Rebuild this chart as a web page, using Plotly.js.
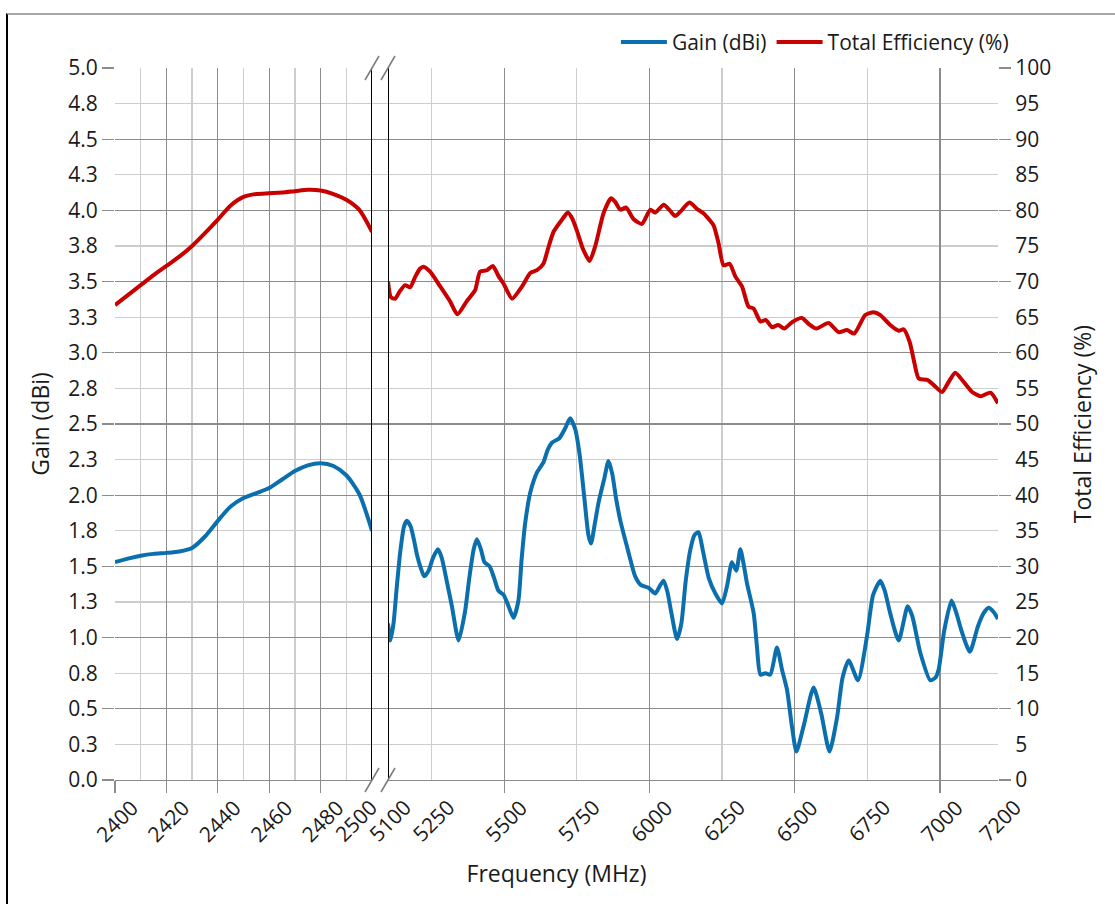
<!DOCTYPE html>
<html>
<head>
<meta charset="utf-8">
<script src="https://cdn.plot.ly/plotly-3.0.1.min.js"></script>
<style>
  html, body { margin:0; padding:0; background:#fff; }
  #wrap { position:relative; width:1115px; height:904px; overflow:hidden; }
  #chart { width:1115px; height:904px; }
  #frame { position:absolute; left:6px; top:13px; width:1200px; height:1000px;
           border-left:2px solid #000; border-top:2px solid #a6a6a6; pointer-events:none; }
</style>
</head>
<body>
<div id="wrap">
  <div id="chart"></div>
  <div id="frame"></div>
</div>
<script>
// ---------- data: 2.4 GHz band ----------
const freqLow = [2400,2405,2410,2415,2420,2425,2430,2435,2440,2445,2450,2455,2460,2465,2470,2475,2480,2485,2490,2495,2500];
const gainLow = [1.53,1.555,1.575,1.588,1.595,1.605,1.63,1.71,1.82,1.92,1.98,2.015,2.05,2.11,2.17,2.21,2.225,2.205,2.14,2.01,1.75];
const effLow  = [66.7,68.1,69.5,70.9,72.2,73.5,75.0,76.8,78.7,80.7,81.9,82.3,82.4,82.5,82.7,82.9,82.8,82.3,81.5,80.1,77.0];

// ---------- data: 5-7 GHz band, gain ----------
const freqHighGain = [5100,5108,5119,5130,5142,5155,5165,5178,5190,5200,5211,5225,5240,5255,5272,5285,5300,5320,5343,5365,
  5380,5395,5406,5420,5432,5450,5465,5480,5498,5515,5532,5549,5560,5572,5590,5613,5635,5650,5665,5690,
  5710,5727,5745,5760,5775,5790,5799,5812,5825,5845,5859,5872,5885,5900,5920,5934,5951,5970,5997,6020,
  6035,6049,6062,6075,6095,6110,6125,6141,6155,6169,6185,6204,6227,6250,6267,6284,6299,6313,6324,6336,
  6359,6370,6382,6399,6416,6439,6457,6474,6491,6506,6531,6565,6591,6620,6646,6665,6686,6718,6749,6770,
  6795,6810,6829,6858,6889,6905,6933,6967,6985,6996,7015,7040,7057,7074,7103,7131,7150,7168,7185,7200];
const gainHigh = [1.10,0.98,1.10,1.35,1.60,1.78,1.82,1.78,1.68,1.58,1.50,1.43,1.47,1.56,1.62,1.56,1.42,1.22,0.98,1.18,
  1.42,1.62,1.69,1.62,1.53,1.50,1.42,1.33,1.30,1.22,1.14,1.26,1.55,1.80,2.02,2.16,2.23,2.32,2.37,2.40,
  2.47,2.54,2.46,2.28,2.00,1.72,1.66,1.80,1.95,2.12,2.24,2.15,1.98,1.82,1.66,1.55,1.43,1.37,1.35,1.31,
  1.36,1.40,1.32,1.18,0.99,1.10,1.40,1.62,1.72,1.74,1.60,1.42,1.31,1.24,1.36,1.53,1.47,1.62,1.52,1.38,
  1.17,0.94,0.74,0.75,0.74,0.93,0.77,0.63,0.37,0.20,0.38,0.65,0.47,0.20,0.44,0.72,0.84,0.70,1.01,1.30,
  1.40,1.33,1.17,0.98,1.22,1.15,0.89,0.70,0.72,0.78,1.05,1.26,1.17,1.05,0.90,1.08,1.17,1.21,1.18,1.13];

// ---------- data: 5-7 GHz band, total efficiency ----------
const freqHighEff = [5100,5110,5125,5140,5159,5176,5194,5210,5222,5245,5280,5314,5339,5372,5400,5417,5441,5461,5480,5498,
  5527,5561,5590,5613,5635,5650,5670,5699,5719,5735,5750,5772,5794,5813,5842,5868,5882,5900,5920,5945,
  5974,6003,6020,6049,6070,6089,6106,6138,6164,6186,6210,6221,6238,6255,6276,6296,6319,6341,6359,6382,
  6401,6422,6443,6464,6491,6525,6550,6575,6617,6651,6680,6705,6743,6772,6795,6829,6858,6875,6896,6910,
  6927,6956,6978,7007,7030,7053,7082,7111,7140,7174,7200];
const effHigh = [70.0,67.8,67.6,68.6,69.5,69.2,70.7,71.8,72.1,71.4,69.3,67.2,65.4,67.3,68.8,71.4,71.6,72.2,70.8,69.7,
  67.6,69.3,71.2,71.6,72.5,74.5,77.0,78.7,79.7,78.8,77.2,74.5,72.9,74.9,79.6,81.7,81.2,80.1,80.4,78.8,
  78.1,80.1,79.7,80.8,80.0,79.2,79.8,81.1,80.2,79.6,78.5,77.9,75.4,72.3,72.5,70.7,69.3,66.5,66.2,64.4,
  64.6,63.6,63.9,63.4,64.3,64.9,64.0,63.4,64.2,62.9,63.2,62.7,65.3,65.7,65.3,63.9,63.1,63.3,61.5,59.0,
  56.4,56.2,55.5,54.5,55.9,57.2,55.9,54.5,53.9,54.4,52.9];

// ---------- tick labels ----------
const lowTickVals   = [2400,2420,2440,2460,2480];
const lowTickText   = ['2400','2420','2440','2460','2480'];
const lowEndVals    = [2500];
const lowEndText    = ['2500'];
const lowMinorVals  = [2410,2430,2450,2470,2490];
const highMajorVals = [5500,6000,6500,7000];
const highMajorText = ['5500','6000','6500','7000'];
const highMinorVals = [5250,5750,6250,6750,7200];
const highExtraVals = [5100,5250,5750,6250,6750,7200];
const highExtraText = ['5100','5250','5750','6250','6750','7200'];
const gainMajorVals = [0,0.5,1,1.5,2,2.5,3,3.5,4,4.5,5];
const gainMajorText = ['0.0','0.5','1.0','1.5','2.0','2.5','3.0','3.5','4.0','4.5','5.0'];
const gainMinorVals = [0.25,0.75,1.25,1.75,2.25,2.75,3.25,3.75,4.25,4.75];
const gainMinorText = ['0.3','0.8','1.3','1.8','2.3','2.8','3.3','3.8','4.3','4.8'];
const effMajorVals  = [0,10,20,30,40,50,60,70,80,90,100];
const effMajorText  = ['0','10','20','30','40','50','60','70','80','90','100'];
const effMinorVals  = [5,15,25,35,45,55,65,75,85,95];
const effMinorText  = ['5','15','25','35','45','55','65','75','85','95'];

// ---------- style ----------
const BLUE = '#0b6fae', RED = '#c80000';
const DARK = '#8c8c8c', LIGHT = '#cdcdcd', TXT = '#1a1a1a';
const CLEAR = 'rgba(0,0,0,0)';
const W = 883;                       // plot area width in px
const xBreakL = 257 / W;             // end of 2.4 GHz section
const xBreakR = 273 / W;             // start of 5 GHz section

function helper(xa, ya) {
  return {x:[], y:[], xaxis:xa, yaxis:ya, type:'scatter', mode:'lines', showlegend:false, hoverinfo:'skip'};
}

const traces = [
  helper('x','y'), helper('x','y3'), helper('x4','y'), helper('x5','y'), helper('x3','y4'),
  {x:freqLow, y:gainLow, xaxis:'x2', yaxis:'y', type:'scatter', mode:'lines', name:'Gain (dBi)',
   line:{color:BLUE, width:4, shape:'spline', smoothing:0.7}, legendgroup:'g'},
  {x:freqLow, y:effLow, xaxis:'x2', yaxis:'y2', type:'scatter', mode:'lines', name:'Total Efficiency (%)',
   line:{color:RED, width:4, shape:'spline', smoothing:0.7}, legendgroup:'e'},
  {x:freqHighGain, y:gainHigh, xaxis:'x3', yaxis:'y', type:'scatter', mode:'lines', name:'Gain (dBi)',
   line:{color:BLUE, width:4, shape:'spline', smoothing:0.6}, legendgroup:'g', showlegend:false},
  {x:freqHighEff, y:effHigh, xaxis:'x3', yaxis:'y2', type:'scatter', mode:'lines', name:'Total Efficiency (%)',
   line:{color:RED, width:4, shape:'spline', smoothing:0.6}, legendgroup:'e', showlegend:false}
];

function brk(px, top) {
  return {type:'line', xref:'paper', yref:'paper', xsizemode:'pixel', ysizemode:'pixel',
          xanchor:px, yanchor: top ? 1 : 0, x0:-7, x1:7, y0:-12, y1:12,
          line:{color:'#7a7a7a', width:1.5}};
}

const tickFont = {family:'Open Sans', size:21, color:TXT};
const titleFont = {family:'Open Sans', size:23, color:TXT};
const XSHIFT = 17, XSTAND = -6;

const layout = {
  width:1115, height:904,
  margin:{l:115, r:117, t:68, b:124, pad:0},
  paper_bgcolor:'rgba(255,255,255,1)', plot_bgcolor:'rgba(255,255,255,0)',
  font:{family:'Open Sans', size:21, color:TXT},
  showlegend:true,
  legend:{orientation:'h', x:1.018, xanchor:'right', y:1.036, yanchor:'middle',
          font:{family:'Open Sans', size:21, color:TXT}, bgcolor:CLEAR, itemwidth:46, traceorder:'normal'},
  // full-width helper axis: carries horizontal grid across the break and the axis title
  xaxis:{domain:[0,1], range:[0,1], showgrid:false, zeroline:false, showticklabels:false, ticks:'',
         anchor:'y', title:{text:'Frequency (MHz)', font:titleFont, standoff:85}},
  xaxis2:{domain:[0,xBreakL], range:[2400,2500], anchor:'y', tickmode:'array', tickvals:lowTickVals, ticktext:lowTickText,
          tickangle:-45, tickfont:tickFont, ticklabelshift:XSHIFT, ticklabelstandoff:XSTAND,
          ticks:'outside', ticklen:12, tickwidth:1.3, tickcolor:DARK,
          showgrid:true, gridcolor:DARK, gridwidth:1.3, zeroline:false, showline:true, linecolor:DARK, linewidth:1.3,
          minor:{tickmode:'array', tickvals:lowMinorVals, showgrid:true, gridcolor:LIGHT, gridwidth:1.3, ticks:''}},
  xaxis5:{overlaying:'x2', range:[2400,2500], anchor:'y', side:'bottom', tickmode:'array', tickvals:lowEndVals, ticktext:lowEndText,
          tickangle:-45, tickfont:tickFont, ticklabelshift:-1, ticklabelstandoff:XSTAND,
          ticks:'outside', ticklen:12, tickcolor:CLEAR, showgrid:false, zeroline:false},
  xaxis3:{domain:[xBreakR,1], range:[5100,7200], anchor:'y', tickmode:'array', tickvals:highMajorVals, ticktext:highMajorText,
          tickangle:-45, tickfont:tickFont, ticklabelshift:XSHIFT, ticklabelstandoff:XSTAND,
          ticks:'outside', ticklen:12, tickwidth:1.3, tickcolor:DARK,
          showgrid:true, gridcolor:DARK, gridwidth:1.3, zeroline:false, showline:true, linecolor:DARK, linewidth:1.3,
          minor:{tickmode:'array', tickvals:highMinorVals, showgrid:true, gridcolor:LIGHT, gridwidth:1.3, ticks:''}},
  xaxis4:{overlaying:'x3', range:[5100,7200], anchor:'y', side:'bottom', tickmode:'array', tickvals:highExtraVals, ticktext:highExtraText,
          tickangle:-45, tickfont:tickFont, ticklabelshift:XSHIFT, ticklabelstandoff:XSTAND,
          ticks:'outside', ticklen:12, tickcolor:CLEAR, showgrid:false, zeroline:false},
  yaxis:{domain:[0,1], range:[0,5], anchor:'x', tickmode:'array', tickvals:gainMajorVals, ticktext:gainMajorText,
         tickfont:tickFont, ticks:'outside', ticklen:12, tickwidth:1.3, tickcolor:DARK,
         showgrid:true, gridcolor:DARK, gridwidth:1.3, zeroline:false,
         minor:{tickmode:'array', tickvals:gainMinorVals, showgrid:true, gridcolor:LIGHT, gridwidth:1.3, ticks:''},
         title:{text:'Gain (dBi)', font:titleFont, standoff:12}},
  yaxis3:{overlaying:'y', range:[0,5], anchor:'x', side:'left', tickmode:'array', tickvals:gainMinorVals, ticktext:gainMinorText,
          tickfont:tickFont, ticks:'outside', ticklen:12, tickcolor:CLEAR, showgrid:false, zeroline:false},
  yaxis2:{overlaying:'y', range:[0,100], anchor:'x3', side:'right', tickmode:'array', tickvals:effMajorVals, ticktext:effMajorText,
          tickfont:tickFont, ticks:'outside', ticklen:12, tickwidth:1.3, tickcolor:DARK, showgrid:false, zeroline:false,
          title:{text:'Total Efficiency (%)', font:titleFont, standoff:24}},
  yaxis4:{overlaying:'y', range:[0,100], anchor:'x3', side:'right', tickmode:'array', tickvals:effMinorVals, ticktext:effMinorText,
          tickfont:tickFont, ticks:'outside', ticklen:12, tickcolor:CLEAR, showgrid:false, zeroline:false},
  shapes:[
    {type:'line', xref:'x2', x0:2500, x1:2500, yref:'paper', y0:0, y1:1, line:{color:'#000', width:2}},
    {type:'line', xref:'x3', x0:5100, x1:5100, yref:'paper', y0:0, y1:1, line:{color:'#000', width:2}},
    brk(xBreakL, true), brk(xBreakR, true), brk(xBreakL, false), brk(xBreakR, false)
  ]
};

Plotly.newPlot('chart', traces, layout, {displayModeBar:false, staticPlot:true});
</script>
</body>
</html>
